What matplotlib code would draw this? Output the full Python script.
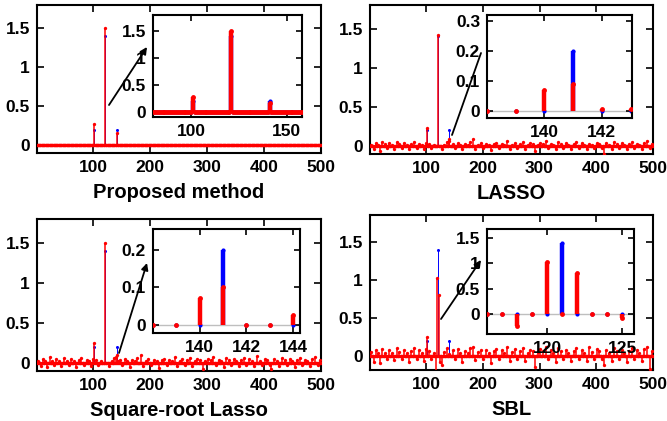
import numpy as np
import matplotlib
matplotlib.use('Agg')
import matplotlib.pyplot as plt
from matplotlib.patches import FancyArrowPatch

plt.rcParams['font.family'] = ['Liberation Sans', 'DejaVu Sans']
plt.rcParams['font.weight'] = 'bold'

N = 500
x = np.arange(1, N + 1)

# true sparse signal
true_idx = [101, 121, 141]
true_val = [0.2, 1.4, 0.2]

# estimates (large entries)
prop_idx = [101, 121, 141]
prop_val = [0.27, 1.5, 0.16]
lasso_idx = [101, 121, 140, 141, 142, 143]
lasso_val = [0.23, 1.42, 0.07, 0.09, 0.005, 0.005]
sr_idx = [101, 121, 140, 141, 144]
sr_val = [0.25, 1.5, 0.07, 0.1, 0.025]
sbl_idx = [101, 118, 120, 122, 125, 141]
sbl_val = [0.24, -0.25, 1.03, 0.8, -0.08, 0.02]

# small spurious entries
noise_idx = [3, 8, 11, 15, 19, 23, 27, 31, 35, 40,
             44, 48, 53, 57, 61, 66, 70, 74, 79, 83,
             88, 92, 96, 99, 105, 109, 113, 128, 132, 136,
             147, 151, 156, 160, 164, 168, 173, 177, 183, 187,
             192, 196, 201, 206, 211, 215, 220, 224, 229, 233,
             238, 243, 247, 252, 256, 261, 265, 270, 274, 279,
             283, 288, 292, 297, 301, 306, 311, 315, 320, 324,
             329, 333, 338, 342, 347, 351, 356, 360, 365, 369,
             374, 378, 383, 387, 392, 396, 401, 405, 410, 413,
             418, 422, 427, 431, 436, 440, 445, 449, 454, 458,
             463, 467, 472, 476, 481, 485, 490, 494, 498]
lasso_noise = [0.02, -0.03, 0.04, 0.02, -0.06, 0.05, 0.03, -0.02, 0.04, 0.02,
               -0.03, 0.05, 0.03, -0.02, 0.04, 0.02, -0.04, 0.03, 0.05, -0.02,
               0.03, 0.02, -0.03, 0.04, 0.03, -0.02, 0.02, -0.03, 0.02, 0.05,
               0.03, -0.02, 0.04, 0.02, -0.04, 0.03, 0.02, 0.05, 0.09, -0.03,
               0.02, 0.04, -0.02, 0.03, 0.02, -0.05, 0.03, 0.04, -0.02, 0.03,
               0.02, 0.06, -0.03, 0.02, 0.04, -0.02, 0.03, 0.05, -0.03, 0.02,
               0.04, 0.03, -0.06, 0.02, 0.04, 0.03, 0.06, -0.02, 0.03, 0.02,
               -0.04, 0.05, 0.03, -0.02, 0.04, 0.02, -0.03, 0.03, 0.05, -0.02,
               0.04, 0.02, -0.03, 0.03, 0.02, -0.02, 0.04, 0.03, -0.02, -0.1,
               0.04, 0.02, -0.03, 0.05, 0.03, -0.02, 0.04, 0.02, -0.04, 0.03,
               0.05, -0.02, 0.03, 0.02, -0.03, 0.04, 0.06, -0.02, 0.03]
sr_noise = [0.03, -0.04, 0.05, 0.02, -0.05, 0.07, 0.03, -0.03, 0.05, 0.02,
            -0.04, 0.06, 0.03, -0.02, 0.05, 0.03, -0.05, 0.04, 0.06, -0.03,
            0.04, 0.02, -0.04, 0.05, 0.04, -0.03, 0.03, -0.04, 0.03, 0.06,
            0.04, -0.03, 0.05, 0.02, -0.05, 0.04, 0.03, 0.06, 0.1, -0.04,
            0.03, 0.05, -0.03, 0.04, 0.02, -0.06, 0.04, 0.05, -0.03, 0.04,
            0.03, 0.07, -0.04, 0.03, 0.05, -0.02, 0.04, 0.06, -0.04, 0.03,
            0.05, 0.04, -0.07, 0.03, 0.05, 0.04, 0.07, -0.03, 0.04, 0.03,
            -0.05, 0.06, 0.04, -0.03, 0.05, 0.03, -0.04, 0.04, 0.06, -0.03,
            0.05, 0.03, -0.04, 0.09, 0.03, -0.03, 0.05, 0.04, -0.03, -0.08,
            0.05, 0.03, -0.04, 0.06, 0.04, -0.03, 0.05, 0.03, -0.05, 0.04,
            0.06, -0.03, 0.04, 0.03, -0.04, 0.05, 0.07, -0.03, 0.04]
sbl_noise = [0.05, -0.08, 0.07, 0.03, -0.1, 0.09, 0.04, -0.05, 0.08, 0.03,
             -0.06, 0.1, 0.05, -0.04, 0.08, 0.04, -0.09, 0.06, 0.1, -0.05,
             0.07, 0.03, -0.07, 0.09, 0.06, -0.05, 0.04, -0.13, 0.05, 0.1,
             0.07, -0.05, 0.09, 0.03, -0.08, 0.06, 0.04, 0.1, 0.12, -0.06,
             0.05, 0.08, -0.05, 0.07, 0.03, -0.1, 0.06, 0.09, -0.05, 0.07,
             0.04, 0.11, -0.07, 0.05, 0.09, -0.04, 0.06, 0.1, -0.07, 0.04,
             0.08, 0.06, -0.15, 0.05, 0.09, 0.06, 0.11, -0.05, 0.07, 0.04,
             -0.09, 0.1, 0.06, -0.05, 0.08, 0.04, -0.07, 0.06, 0.1, -0.05,
             0.08, 0.04, -0.07, 0.12, 0.05, -0.05, 0.09, 0.06, -0.05, -0.12,
             0.08, 0.04, -0.07, 0.1, 0.06, -0.05, 0.08, 0.04, -0.09, 0.06,
             0.1, -0.05, 0.07, 0.04, -0.07, 0.09, 0.12, -0.18, 0.06]


def build(idx, val, nidx=None, nval=None):
    y = np.zeros(N)
    if nidx is not None:
        y[np.array(nidx) - 1] = nval
    y[np.array(idx) - 1] = val
    return y


truth = build(true_idx, true_val)
estimates = [build(prop_idx, prop_val),
             build(lasso_idx, lasso_val, noise_idx, lasso_noise),
             build(sr_idx, sr_val, noise_idx, sr_noise),
             build(sbl_idx, sbl_val, noise_idx, sbl_noise)]
names = ['Proposed method', 'LASSO', 'Square-root Lasso', 'SBL']

W, H = 667, 421


def rect(x0, y0, x1, y1):
    return [x0 / W, 1 - y1 / H, (x1 - x0) / W, (y1 - y0) / H]


def fpt(px, py):
    return (px / W, 1 - py / H)


main_box = [(37, 5, 321, 153), (370, 5, 653, 154), (37, 219, 321, 371), (370, 215, 653, 370)]
ins_box = [(153, 15, 302, 117), (487, 15, 632, 118), (153, 229, 300, 333), (487, 229, 634, 334)]
main_ylim = [(-0.1, 1.8), (-0.1, 1.8), (-0.1, 1.8), (-0.19, 1.86)]
ins_xlim = [(80, 158), (138, 143.05), (138, 144.3), (116, 125.8)]
ins_ylim = [(-0.09, 1.79), (-0.025, 0.32), (-0.022, 0.255), (-0.4, 1.68)]
ins_xticks = [[100, 150], [140, 142], [140, 142, 144], [120, 125]]
ins_yticks = [[0, 0.5, 1, 1.5], [0, 0.1, 0.2, 0.3], [0, 0.1, 0.2], [0, 0.5, 1, 1.5]]
ins_ylabels = [['0', '0.5', '1', '1.5'], ['0', '0.1', '0.2', '0.3'],
               ['0', '0.1', '0.2'], ['0', '0.5', '1', '1.5']]
arrows = [((109, 105), (147, 47), True), ((452, 135), (481, 53), False),
          ((119, 353), (147, 263), True), ((441, 319), (481, 260), True)]


def stems(ax, y, color, lw, ms, z):
    ml, sl, bl = ax.stem(x, y, linefmt='-', markerfmt='o', basefmt='k-')
    sl.set_color(color)
    sl.set_linewidth(lw)
    sl.set_zorder(z)
    ml.set_color(color)
    ml.set_markersize(ms)
    ml.set_markeredgewidth(0)
    ml.set_zorder(z)
    bl.set_visible(False)


def style(ax, lw, tl):
    for s in ax.spines.values():
        s.set_linewidth(lw)
    ax.tick_params(direction='in', top=True, right=True, length=tl, width=1.2,
                   labelsize=12.5, pad=5)
    for t in ax.get_xticklabels() + ax.get_yticklabels():
        t.set_fontweight('bold')


fig = plt.figure(figsize=(W / 100, H / 100), dpi=100)

for k in range(4):
    ax = fig.add_axes(rect(*main_box[k]))
    stems(ax, truth, 'blue', 0.7, 2.2, 2)
    stems(ax, estimates[k], 'red', 1.1, 2.4, 3)
    ax.set_xlim(1, 500)
    ax.set_ylim(*main_ylim[k])
    ax.set_xticks([100, 200, 300, 400, 500])
    ax.set_yticks([0, 0.5, 1, 1.5], ['0', '0.5', '1', '1.5'])
    style(ax, 1.5, 5)
    ax.set_xlabel(names[k], fontsize=14.5, fontweight='bold', labelpad=6)

    ins = fig.add_axes(rect(*ins_box[k]))
    ins.axhline(0, color='0.75', lw=1, zorder=1)
    stems(ins, truth, 'blue', 3.2, 3.0, 2)
    stems(ins, estimates[k], 'red', 3.2, 3.5, 3)
    ins.set_xlim(*ins_xlim[k])
    ins.set_ylim(*ins_ylim[k])
    ins.set_xticks(ins_xticks[k])
    ins.set_yticks(ins_yticks[k], ins_ylabels[k])
    style(ins, 1.5, 4)

    (p0, p1, head) = arrows[k]
    arr = FancyArrowPatch(fpt(*p0), fpt(*p1), transform=fig.transFigure,
                          arrowstyle='-|>' if head else '-', mutation_scale=10,
                          color='black', lw=1.3, shrinkA=0, shrinkB=0)
    fig.add_artist(arr)

fig.savefig('out.png', dpi=100)
